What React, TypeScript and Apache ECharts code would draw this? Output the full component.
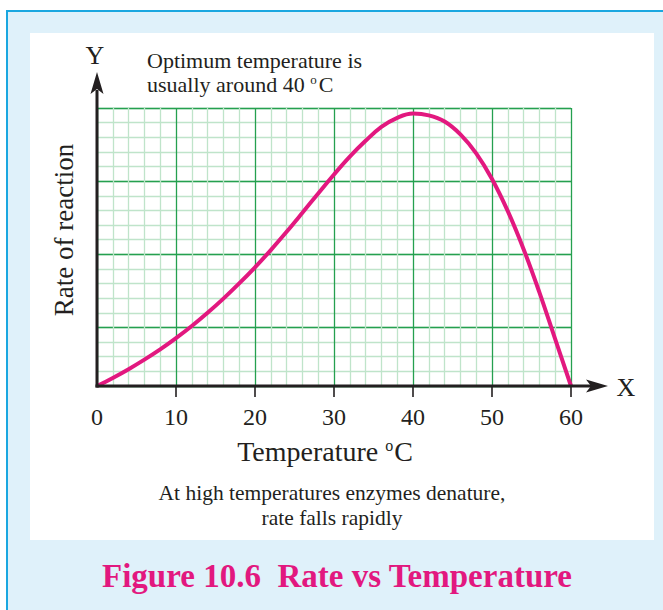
import React, { useEffect, useRef } from "react";
import * as echarts from "echarts";

const temps = [0, 2, 4, 6, 8, 10, 12, 14, 16, 18, 20, 22, 24, 26, 28, 30, 32, 34, 36, 38, 40, 42, 44, 46, 48, 50, 52, 54, 56, 58, 60];
const rates = [0, 0.55, 1.15, 1.8, 2.5, 3.27, 4.1, 5.0, 5.97, 7.01, 8.11, 9.29, 10.54, 11.84, 13.16, 14.46, 15.68, 16.76, 17.71, 18.33, 18.62, 18.5, 18.08, 17.2, 15.9, 14.15, 11.95, 9.35, 6.4, 3.2, 0];
const xTickValues = [10, 20, 30, 40, 50, 60];
const X_MAX = 60;
const Y_MAX = 19;

const INK = "#231f20";
const MAGENTA = "#e2187f";
const MAJOR = "#25a04f";
const MINOR = "#bfe4ca";
const FONT = "'Liberation Serif', 'DejaVu Serif', serif";

export default function App() {
  const ref = useRef<HTMLDivElement>(null);
  useEffect(() => {
    if (!ref.current) return;
    const chart = echarts.init(ref.current, null, { renderer: "svg" });
    chart.setOption({
      animation: false,
      grid: { left: 97, right: 92, top: 108, bottom: 224 },
      xAxis: {
        type: "value",
        min: 0,
        max: X_MAX,
        interval: 10,
        name: "Temperature {sup|o}C",
        nameLocation: "middle",
        nameGap: 51,
        nameTextStyle: {
          fontFamily: FONT,
          fontSize: 28,
          color: INK,
          padding: [0, 18, 0, 0],
          rich: { sup: { fontFamily: FONT, fontSize: 16, color: INK, verticalAlign: "top", padding: [0, 1, 0, 0] } },
        },
        axisLine: { show: false },
        axisTick: { show: false },
        axisLabel: { fontFamily: FONT, fontSize: 24, color: INK, margin: 19 },
        splitLine: { show: true, lineStyle: { color: MAJOR, width: 1.3 } },
        minorTick: { show: false, splitNumber: 5 },
        minorSplitLine: { show: true, lineStyle: { color: MINOR, width: 1.3 } },
      },
      yAxis: [
        {
          type: "value",
          min: 0,
          max: Y_MAX,
          interval: 1,
          name: "Rate of reaction",
          nameLocation: "middle",
          nameRotate: 90,
          nameGap: 20,
          nameTextStyle: { fontFamily: FONT, fontSize: 27, color: INK, padding: [0, 0, 0, 34] },
          axisLine: { show: false },
          axisTick: { show: false },
          axisLabel: { show: false },
          splitLine: { show: true, lineStyle: { color: MINOR, width: 1.3 } },
        },
        {
          type: "value",
          min: 0,
          max: Y_MAX,
          interval: 5,
          inverse: true,
          position: "left",
          axisLine: { show: false },
          axisTick: { show: false },
          axisLabel: { show: false },
          splitLine: { show: true, lineStyle: { color: MAJOR, width: 1.3 } },
        },
      ],
      series: [
        {
          type: "line",
          data: temps.map((t, i) => [t, rates[i]]),
          smooth: 0.4,
          showSymbol: false,
          clip: false,
          z: 5,
          lineStyle: { color: MAGENTA, width: 4 },
        },
      ],
    });

    const o = chart.convertToPixel({ gridIndex: 0 }, [0, 0]) as number[];
    const top = chart.convertToPixel({ gridIndex: 0 }, [0, Y_MAX]) as number[];
    const right = chart.convertToPixel({ gridIndex: 0 }, [X_MAX, 0]) as number[];
    const yTip = top[1] - 36;
    const xTip = right[0] + 37;
    const graphics: any[] = [
      { type: "line", z: 10, shape: { x1: o[0], y1: o[1] + 1.5, x2: o[0], y2: yTip + 18 }, style: { stroke: INK, lineWidth: 3 } },
      { type: "polygon", z: 10, shape: { points: [[o[0], yTip], [o[0] - 6.5, yTip + 22], [o[0], yTip + 17], [o[0] + 6.5, yTip + 22]] }, style: { fill: INK } },
      { type: "line", z: 10, shape: { x1: o[0] - 1.5, y1: o[1], x2: xTip - 16, y2: o[1] }, style: { stroke: INK, lineWidth: 3 } },
      { type: "polygon", z: 10, shape: { points: [[xTip, o[1]], [xTip - 22, o[1] - 6.5], [xTip - 17, o[1]], [xTip - 22, o[1] + 6.5]] }, style: { fill: INK } },
      { type: "text", z: 10, x: o[0] - 2, y: yTip - 17, style: { text: "Y", fontFamily: FONT, fontSize: 26, fill: INK, align: "center", verticalAlign: "middle" } },
      { type: "text", z: 10, x: xTip + 18, y: o[1] + 1, style: { text: "X", fontFamily: FONT, fontSize: 26, fill: INK, align: "center", verticalAlign: "middle" } },
      {
        type: "text", z: 10, x: 147, y: 60,
        style: {
          text: "Optimum temperature is",
          fontFamily: FONT, fontSize: 22, fill: INK, align: "left", verticalAlign: "middle",
        },
      },
      {
        type: "text", z: 10, x: 147, y: 84,
        style: {
          text: "usually around 40 {sup|o}C",
          fontFamily: FONT, fontSize: 22, fill: INK, align: "left", verticalAlign: "middle",
          rich: { sup: { fontFamily: FONT, fontSize: 13, fill: INK, verticalAlign: "top", padding: [0, 2, 0, 0] } },
        },
      },
      {
        type: "text", z: 10, x: 332, y: 493,
        style: {
          text: "At high temperatures enzymes denature,",
          fontFamily: FONT, fontSize: 21.5, fill: INK, align: "center", verticalAlign: "middle",
        },
      },
      {
        type: "text", z: 10, x: 332, y: 518,
        style: {
          text: "rate falls rapidly",
          fontFamily: FONT, fontSize: 21.5, fill: INK, align: "center", verticalAlign: "middle",
        },
      },
      {
        type: "text", z: 10, x: 337, y: 576,
        style: {
          text: "Figure 10.6  Rate vs Temperature",
          fontFamily: FONT, fontSize: 33, fontWeight: "bold", fill: MAGENTA, align: "center", verticalAlign: "middle",
        },
      },
    ];
    xTickValues.forEach((v) => {
      const p = chart.convertToPixel({ gridIndex: 0 }, [v, 0]) as number[];
      graphics.push({ type: "line", z: 10, shape: { x1: p[0], y1: p[1], x2: p[0], y2: p[1] + 11 }, style: { stroke: INK, lineWidth: 1.6 } });
    });
    chart.setOption({ graphic: graphics });
    return () => chart.dispose();
  }, []);

  return (
    <div style={{ position: "fixed", left: 0, top: 0, width: 663, height: 610, background: "#ffffff", overflow: "hidden" }}>
      <div style={{ position: "absolute", left: 6, top: 10, width: 680, height: 620, background: "#dff1fa", borderLeft: "2px solid #1aa7e0", borderTop: "2px solid #1aa7e0" }} />
      <div style={{ position: "absolute", left: 30, top: 33, width: 624, height: 507, background: "#ffffff" }} />
      <div ref={ref} style={{ position: "absolute", left: 0, top: 0, width: 663, height: 610 }} />
    </div>
  );
}
